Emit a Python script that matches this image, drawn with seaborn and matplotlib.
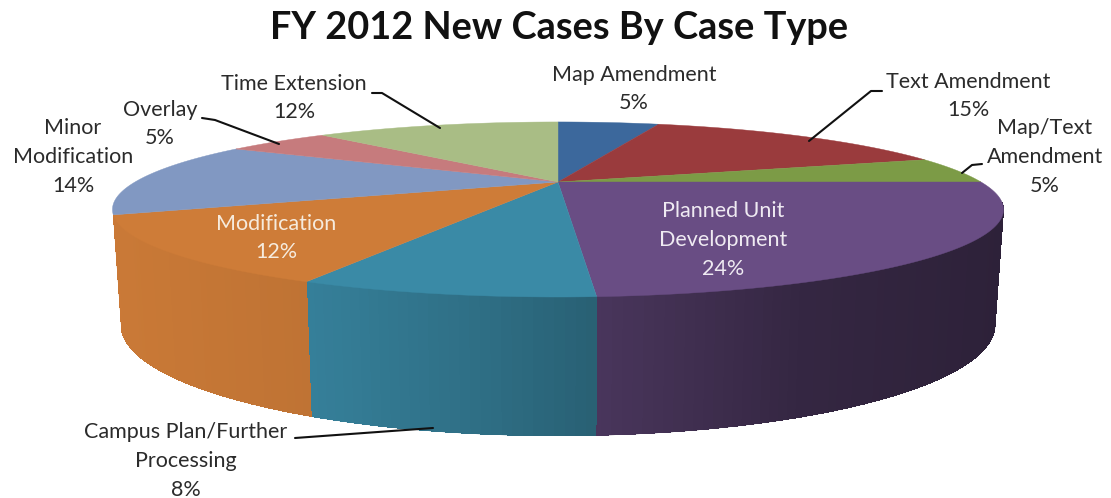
import numpy as np
import matplotlib
matplotlib.use("Agg")
import matplotlib.pyplot as plt
import seaborn as sns

# Slices run clockwise from twelve o'clock
case_types = ["Map Amendment", "Text Amendment", "Map/Text Amendment",
              "Planned Unit Development", "Campus Plan/Further Processing",
              "Modification", "Minor Modification", "Overlay", "Time Extension"]
shares = [5, 15, 5, 24, 8, 12, 14, 5, 12]
hex_colors = ["#3C689C", "#9A3B3D", "#7C9B46", "#694D84", "#3A8AA6",
              "#CE7C38", "#8198C2", "#C67B7D", "#A9BD85"]

label_text = ["Map Amendment\n5%", "Text Amendment\n15%", "Map/Text\nAmendment\n5%",
              "Planned Unit\nDevelopment\n24%", "Campus Plan/Further\nProcessing\n8%",
              "Modification\n12%", "Minor\nModification\n14%", "Overlay\n5%",
              "Time Extension\n12%"]
label_xy = [(634, 89), (968, 96), (1045, 157), (723, 240), (186, 461),
            (276, 238), (73, 157), (160, 124), (294, 98)]
label_color = ["#2B2B2B"] * 3 + ["#EFEAF2"] + ["#2B2B2B"] + ["#F6EBDD"] + ["#2B2B2B"] * 3

leader_paths = [
    [(882, 91), (871, 91), (809, 141)],
    [(982, 164), (972, 165), (962, 173)],
    [(295, 438), (433, 428)],
    [(202, 118), (215, 120), (279, 144)],
    [(372, 93), (382, 93), (440, 128)],
]

sns.set_theme(style="white")
plt.rcParams["font.family"] = ["Lato", "DejaVu Sans"]
palette = sns.color_palette(hex_colors)

fig, ax = plt.subplots(figsize=(11.11, 4.98), dpi=100)
ax.set_position([0, 0, 1, 1])
ax.set_xlim(0, 1111)
ax.set_ylim(498, 0)
ax.axis("off")

# Perspective view of the pie's top and bottom faces
TILT = 0.314
CX = 558
TOP = dict(cy=182, ax=423, by=78.9)
BOTTOM = dict(cy=290, ax=415, by=100)


def project(deg, face):
    t = np.radians(deg)
    x, toward = np.sin(t), -np.cos(t)
    depth = 1 - TILT * toward
    return CX + face["ax"] * x / depth, face["cy"] + face["by"] * toward / depth


def wall_shade(x):
    return np.interp(x, [112, 300, 480, 593, 800, 1000],
                     [0.98, 0.93, 0.80, 0.70, 0.50, 0.43])


edges = np.concatenate([[0], np.cumsum(shares)]) * 3.6
WALL_FROM, WALL_TO = 104, edges[6]

# Side wall: a solid underlay per slice, then narrow strips darkening to the right
for start, stop, colour in zip(edges[:-1], edges[1:], palette):
    lo, hi = max(start, WALL_FROM), min(stop, WALL_TO)
    if lo >= hi:
        continue
    span = np.linspace(lo, hi, 60)
    x1, y1 = project(span, TOP)
    x2, y2 = project(span[::-1], BOTTOM)
    xs = np.concatenate([x1, x2])
    mid = tuple(c * wall_shade(xs.mean()) for c in colour)
    ax.fill(xs, np.concatenate([y1, y2]), color=mid, lw=0.3, zorder=2)

    steps = np.arange(lo, hi + 0.01, 1.0)
    steps = np.append(steps[steps < hi], hi)
    for a, b in zip(steps[:-1], steps[1:]):
        x1, y1 = project(np.array([a, b]), TOP)
        x2, y2 = project(np.array([b, a]), BOTTOM)
        xs = np.concatenate([x1, x2])
        strip = tuple(c * wall_shade(xs.mean()) for c in colour)
        ax.fill(xs, np.concatenate([y1, y2]), color=strip, lw=0, zorder=2.1,
                antialiased=False)

# Top face
for start, stop, colour in zip(edges[:-1], edges[1:], palette):
    arc = np.linspace(start, stop, 80)
    x, y = project(arc, TOP)
    ax.fill(np.r_[CX, x], np.r_[TOP["cy"], y], color=colour, lw=0.3, zorder=3)

for path in leader_paths:
    xs, ys = zip(*path)
    ax.plot(xs, ys, color="#111111", lw=1.5, zorder=4, solid_capstyle="round")

for txt, (x, y), c in zip(label_text, label_xy, label_color):
    ax.text(x, y, txt, ha="center", va="center", fontsize=15.5, color=c,
            linespacing=1.55, zorder=5)

ax.text(559, 28, "FY 2012 New Cases By Case Type", ha="center", va="center",
        fontsize=27.3, fontweight="bold", color="#111111")

fig.savefig("out.png", dpi=100, facecolor="white")
